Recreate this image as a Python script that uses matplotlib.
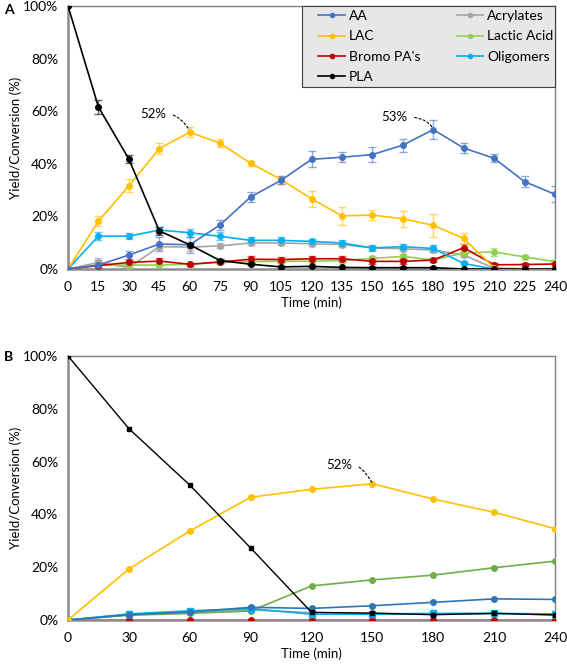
import matplotlib.pyplot as plt
from matplotlib.lines import Line2D
from matplotlib.patches import Rectangle
import numpy as np

plt.rcParams['font.family'] = ['Lato', 'DejaVu Sans']

# ---- panel A data (time in min, values in %)
time_a = [0, 15, 30, 45, 60, 75, 90, 105, 120, 135, 150, 165, 180, 195, 210, 225, 240]
aa_a = [0, 1.5, 5.3, 9.5, 9.2, 16.8, 27.4, 33.7, 41.7, 42.5, 43.5, 47.1, 53.0, 46.0, 42.1, 33.2, 28.4]
aa_a_err = [0, 2, 1.5, 2.5, 3, 2, 2, 1.5, 3, 2, 3, 2.5, 3.5, 2, 1.5, 2, 3]
lac_a = [0, 18.2, 31.6, 45.8, 52.0, 47.8, 40.2, 34.0, 26.7, 20.2, 20.5, 19.1, 16.6, 11.6, 0.5, 0, 0]
lac_a_err = [0, 2, 2.5, 2, 2, 1.5, 1, 1.5, 3, 3.5, 2, 3, 4.5, 2, 0, 0, 0]
bromo_a = [0, 1.3, 2.5, 3.0, 1.8, 2.7, 3.7, 3.6, 3.9, 3.9, 2.9, 2.9, 3.4, 8.1, 1.6, 1.7, 1.9]
bromo_a_err = [0, 0.8, 0.8, 1.2, 0.6, 0.6, 1.2, 1.0, 1.0, 1.0, 1.0, 1.0, 0.8, 1.5, 0.6, 0.6, 0.6]
pla_a = [100, 61.6, 41.8, 14.5, 9.2, 3.2, 1.8, 0.8, 1.0, 0.6, 0.5, 0.5, 0.5, 0, 0, 0, 0]
pla_a_err = [0, 2.5, 1.5, 1.5, 0.5, 0.5, 0.3, 0.3, 0.3, 0.3, 0.3, 0.3, 0.3, 0, 0, 0, 0]
acry_a = [0, 2.5, 0.5, 8.5, 8.3, 8.8, 9.9, 9.9, 9.6, 9.3, 8.0, 7.7, 7.2, 5.3, 0.3, 0, 0]
acry_a_err = [0, 1.5, 1.0, 1.0, 1.5, 1.0, 0.8, 0.8, 0.8, 0.8, 0.8, 0.8, 0.8, 0.8, 0.3, 0, 0]
lact_a = [0, 1.5, 1.5, 1.5, 1.8, 2.5, 2.8, 2.9, 3.0, 3.2, 4.0, 4.8, 3.4, 6.1, 6.5, 4.6, 2.8]
lact_a_err = [0, 0.5, 0.5, 0.5, 0.5, 0.5, 0.5, 0.5, 0.5, 0.5, 0.8, 0.8, 0.5, 1.0, 1.5, 0.8, 0.5]
olig_a = [0, 12.5, 12.5, 14.8, 13.8, 12.4, 10.9, 10.9, 10.5, 9.9, 8.0, 8.5, 7.8, 2.1, 0, 0, 0]
olig_a_err = [0, 1.5, 1.0, 1.0, 1.5, 1.5, 1.2, 1.2, 1.0, 1.0, 1.2, 1.0, 1.2, 0.5, 0, 0, 0]

# ---- panel B data
time_b = [0, 30, 60, 90, 120, 150, 180, 210, 240]
aa_b = [0, 2.0, 3.0, 4.8, 4.4, 5.4, 6.7, 8.0, 7.8]
lac_b = [0, 19.3, 33.7, 46.5, 49.5, 51.6, 45.8, 40.8, 34.6]
bromo_b = [0, 0, 0, 0, 0, 0, 0, 0, 0]
pla_b = [100, 72.5, 51.1, 27.3, 2.9, 2.6, 2.0, 2.5, 1.9]
acry_b = [0, 2.0, 3.0, 3.8, 2.8, 2.5, 2.3, 2.5, 2.0]
lact_b = [0, 1.8, 2.5, 3.4, 12.9, 15.2, 17.0, 19.8, 22.3]
olig_b = [0, 2.3, 3.5, 4.3, 2.2, 2.2, 2.5, 2.5, 2.3]

names = ['AA', 'LAC', "Bromo PA's", 'PLA', 'Acrylates', 'Lactic Acid', 'Oligomers']
colors_a = {'AA': '#4472C4', 'LAC': '#FFC000', "Bromo PA's": '#C00000', 'PLA': '#000000',
            'Acrylates': '#A5A5A5', 'Lactic Acid': '#92D050', 'Oligomers': '#00B0F0'}

fig = plt.figure(figsize=(5.67, 6.64), dpi=100)
W, H = 567, 664
ax1 = fig.add_axes([68 / W, 1 - 269 / H, 487 / W, 263 / H])
ax2 = fig.add_axes([68 / W, 1 - 620 / H, 487 / W, 264 / H])


def style_axes(ax, xticks):
    ax.set_xlim(0, 240)
    ax.set_ylim(0, 100)
    ax.set_xticks(xticks)
    ax.set_yticks(np.arange(0, 101, 20))
    ax.set_yticklabels([f'{v}%' for v in range(0, 101, 20)])
    ax.tick_params(length=0, labelsize=10)
    ax.tick_params(axis='x', pad=9)
    ax.tick_params(axis='y', pad=7)
    for s in ['top', 'right']:
        ax.spines[s].set_color('#7f7f7f')
        ax.spines[s].set_linewidth(1.0)
    for s in ['left', 'bottom']:
        ax.spines[s].set_color('#8c8c8c')
        ax.spines[s].set_linewidth(1.8)
    ax.set_ylabel('Yield/Conversion (%)', fontsize=9.5, labelpad=1)
    ax.set_xlabel('Time (min)', fontsize=9.5, labelpad=2)


def label_peak(ax, text, xy, xytext):
    ax.annotate(text, xy=xy, xytext=xytext, fontsize=9.5,
                ha='center', va='center',
                arrowprops=dict(arrowstyle='-', ls=(0, (2, 2)), lw=0.8,
                                color='black', relpos=(1, 0.5),
                                shrinkA=3, shrinkB=1,
                                connectionstyle='angle3,angleA=0,angleB=120'))


# panel A
series_a = {'Acrylates': (acry_a, acry_a_err), 'Lactic Acid': (lact_a, lact_a_err),
            "Bromo PA's": (bromo_a, bromo_a_err), 'Oligomers': (olig_a, olig_a_err),
            'LAC': (lac_a, lac_a_err), 'AA': (aa_a, aa_a_err), 'PLA': (pla_a, pla_a_err)}
for name, (vals, err) in series_a.items():
    c = colors_a[name]
    ax1.errorbar(time_a, vals, yerr=err, fmt='none', ecolor=c, alpha=0.6,
                 elinewidth=1.0, capsize=3, capthick=1.0, zorder=2)
    ax1.plot(time_a, vals, '-o', color=c, lw=1.2, ms=4, zorder=3)
style_axes(ax1, np.arange(0, 241, 15))

# legend box drawn separately so its padding can match
ax1.add_patch(Rectangle((0.4805, 0.692), 0.5195, 0.308, transform=ax1.transAxes,
                        facecolor='#e7e7e7', edgecolor='#404040', lw=0.8,
                        zorder=6, clip_on=False))
handles = [Line2D([], [], color=colors_a[n], marker='o', ms=3, lw=1.2) for n in names]
ax1.legend(handles, names, ncol=2, loc='upper left', bbox_to_anchor=(0.5055, 1.0),
           borderaxespad=0, borderpad=0.3, fontsize=10, frameon=False,
           columnspacing=2.6, handlelength=1.9, handletextpad=0.3,
           labelspacing=0.6).set_zorder(7)

label_peak(ax1, '52%', (60, 52.5), (42.1, 58.9))
label_peak(ax1, '53%', (180, 53.3), (161, 57.8))

# panel B
ax2.plot(time_b, bromo_b, '-', color='#E06666', lw=2.0, zorder=2)
ax2.plot(time_b, bromo_b, 'o', color='#C00000', ms=4, zorder=3)
ax2.plot(time_b, acry_b, '-o', color='#A5A5A5', lw=1.2, ms=4, zorder=3)
ax2.plot(time_b, lact_b, '-o', color='#70AD47', lw=1.2, ms=4, zorder=3)
ax2.plot(time_b, olig_b, '-s', color='#00B0F0', lw=1.2, ms=4, zorder=3)
ax2.plot(time_b, aa_b, '-o', color='#2E75B6', lw=1.2, ms=4, zorder=3)
ax2.plot(time_b, lac_b, '-o', color='#FFC000', lw=1.2, ms=4, zorder=3)
ax2.plot(time_b, pla_b, '-s', color='#000000', lw=1.0, ms=3.5, zorder=4)
style_axes(ax2, np.arange(0, 241, 30))

label_peak(ax2, '52%', (150, 51.8), (133.8, 58.7))

fig.text(4 / W, 1 - 10 / H, 'A', fontsize=10, fontweight='bold', va='center')
fig.text(4 / W, 1 - 357 / H, 'B', fontsize=10, fontweight='bold', va='center')

fig.savefig('out.png', dpi=100)
